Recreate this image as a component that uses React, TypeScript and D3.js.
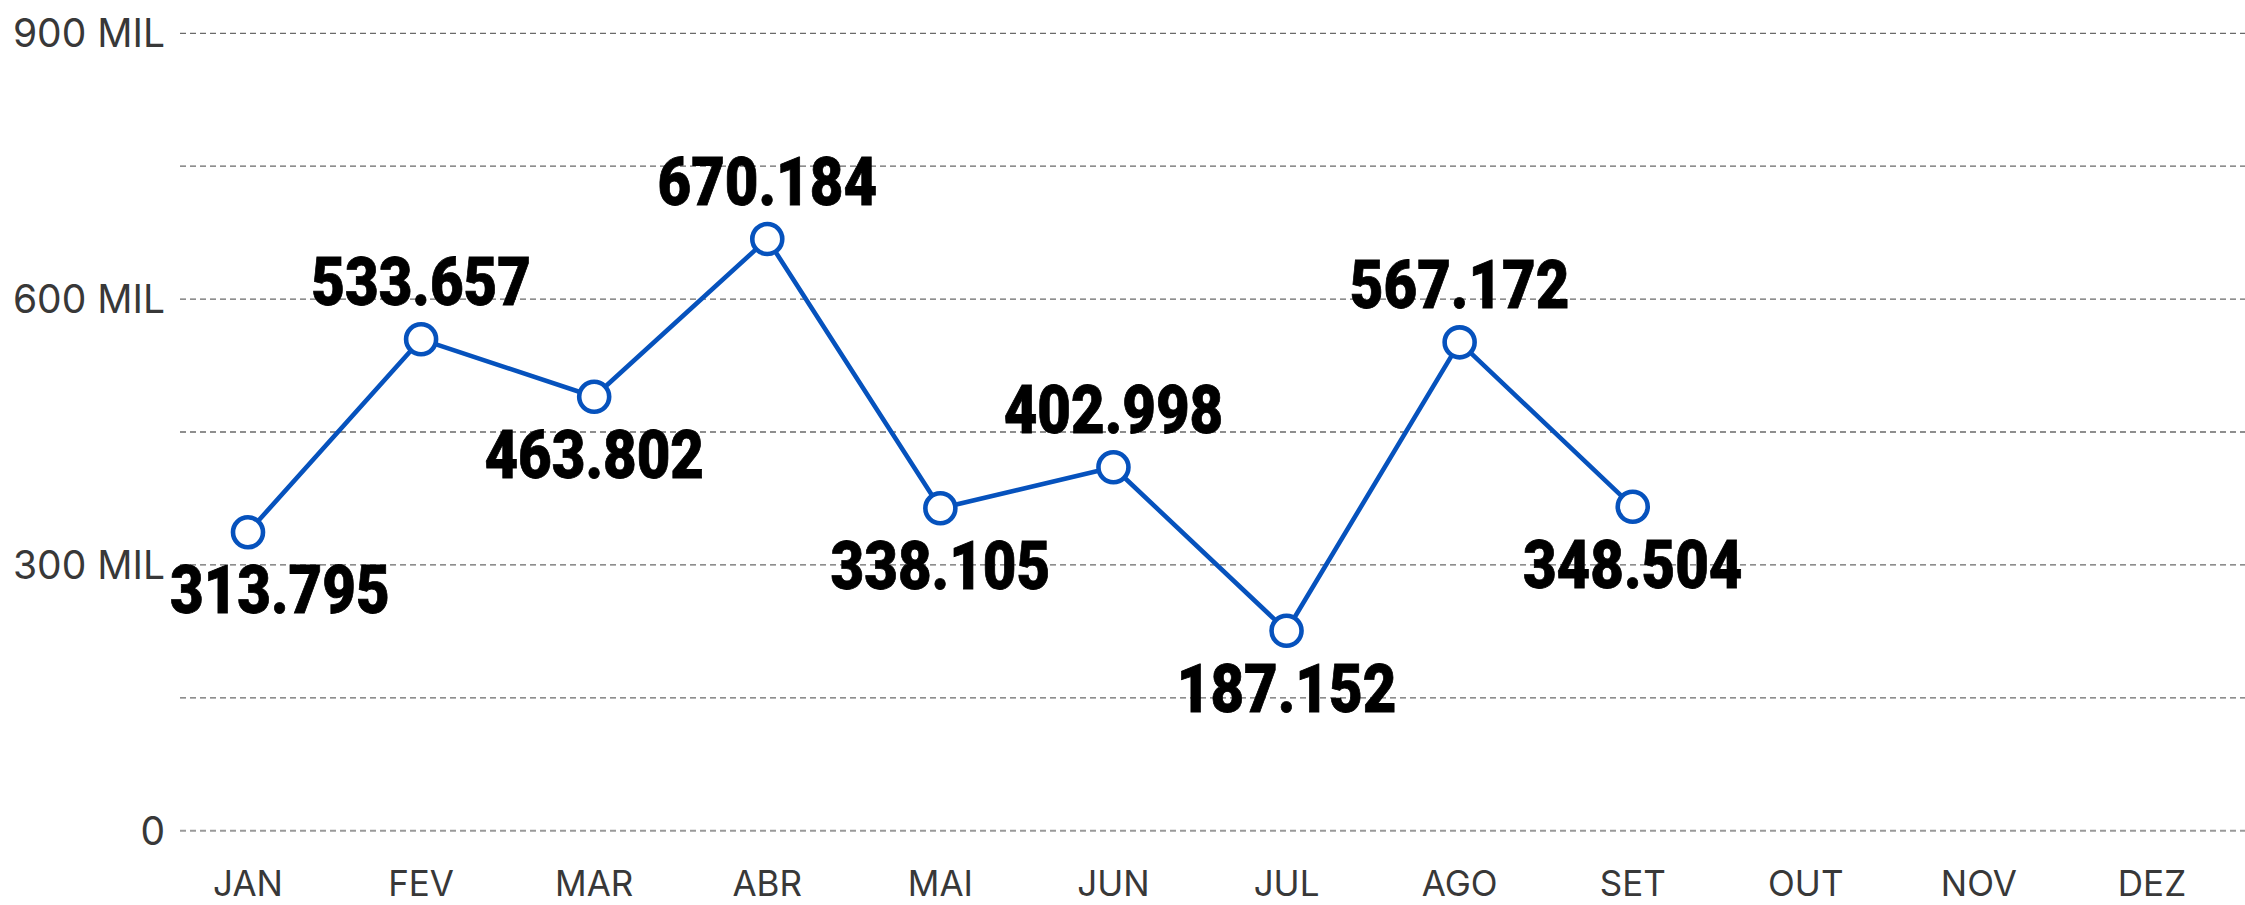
import React, { useEffect, useRef } from "react";
import * as d3 from "d3";

const months = ["JAN", "FEV", "MAR", "ABR", "MAI", "JUN", "JUL", "AGO", "SET", "OUT", "NOV", "DEZ"];
// values as placed on the axis (read from point positions)
const plottedValues = [336800, 554600, 489800, 667800, 363900, 410200, 225700, 551200, 365700];
// values printed in the data labels
const labelValues = [313795, 533657, 463802, 670184, 338105, 402998, 187152, 567172, 348504];
const gridTicks = [0, 150000, 300000, 450000, 600000, 750000, 900000];
const axisTicks = [0, 300000, 600000, 900000];
const axisTickLabels = ["0", "300 MIL", "600 MIL", "900 MIL"];

const W = 2245;
const H = 905;
const BLUE = "#0652BD";

export default function App() {
  const ref = useRef<SVGSVGElement>(null);
  useEffect(() => {
    const svg = d3.select(ref.current);
    svg.selectAll("*").remove();
    const x = d3.scalePoint<string>().domain(months).range([248, 2152]);
    const y = d3.scaleLinear().domain([0, 900000]).range([830.7, 33.3]);
    const fmt = d3.formatLocale({ decimal: ",", thousands: ".", grouping: [3], currency: ["R$", ""] }).format(",d");

    svg.append("rect").attr("width", W).attr("height", H).attr("fill", "#fff");

    svg.append("g").selectAll("line").data(gridTicks).join("line")
      .attr("x1", 180).attr("x2", W)
      .attr("y1", (d) => y(d)).attr("y2", (d) => y(d))
      .attr("stroke", (d) => (d === 0 ? "#9a9a9a" : "#6a6a6a"))
      .attr("stroke-width", (d) => (d === 0 ? 2 : 1.3))
      .attr("stroke-dasharray", "6 4");

    svg.append("g").selectAll("text").data(axisTicks).join("text")
      .attr("x", 165).attr("y", (d) => y(d) + 14)
      .attr("text-anchor", "end")
      .attr("font-family", "Inter, 'Noto Sans', sans-serif")
      .attr("font-size", 39)
      .attr("fill", "#383838")
      .text((d, i) => axisTickLabels[i]);

    svg.append("g").selectAll("text").data(months).join("text")
      .attr("x", (d) => x(d)!).attr("y", 896)
      .attr("text-anchor", "middle")
      .attr("font-family", "Inter, 'Noto Sans', sans-serif")
      .attr("font-size", 35)
      .attr("fill", "#383838")
      .text((d) => d);

    const pts = plottedValues.map((v, i) => ({ m: months[i], v, label: labelValues[i], i }));
    const line = d3.line<typeof pts[number]>().x((d) => x(d.m)!).y((d) => y(d.v));
    svg.append("path").datum(pts).attr("d", line)
      .attr("fill", "none").attr("stroke", BLUE).attr("stroke-width", 4.6)
      .attr("stroke-linejoin", "round");

    svg.append("g").selectAll("circle").data(pts).join("circle")
      .attr("cx", (d) => x(d.m)!).attr("cy", (d) => y(d.v)).attr("r", 15)
      .attr("fill", "#fff").attr("stroke", BLUE).attr("stroke-width", 4.6);

    const isPeak = (i: number) => {
      const v = plottedValues[i];
      const prev = i > 0 ? plottedValues[i - 1] : -Infinity;
      const next = i < plottedValues.length - 1 ? plottedValues[i + 1] : -Infinity;
      return v > prev && v > next;
    };
    const SX = 0.88;
    const lg = svg.append("g");
    pts.forEach((d) => {
      const cx = x(d.m)!;
      const cy = y(d.v);
      const by = isPeak(d.i) ? cy - 34 : cy + 81;
      const g = lg.append("g");
      const t = g.append("text")
        .attr("x", 0).attr("y", 0)
        .attr("text-anchor", "middle")
        .attr("font-family", "Roboto, 'Noto Sans', sans-serif")
        .attr("font-weight", 900)
        .attr("font-size", 66)
        .attr("fill", "#000")
        .attr("stroke", "#000")
        .attr("stroke-width", 0.8)
        .text(fmt(d.label));
      const w = (t.node() as SVGTextElement).getBBox().width * SX;
      let px = cx;
      if (px - w / 2 < 170) px = 170 + w / 2;
      g.attr("transform", `translate(${px},${by}) scale(${SX},1)`);
    });
  }, []);
  return (
    <svg ref={ref} width={W} height={H} style={{ position: "absolute", left: 0, top: 0, display: "block" }} />
  );
}
